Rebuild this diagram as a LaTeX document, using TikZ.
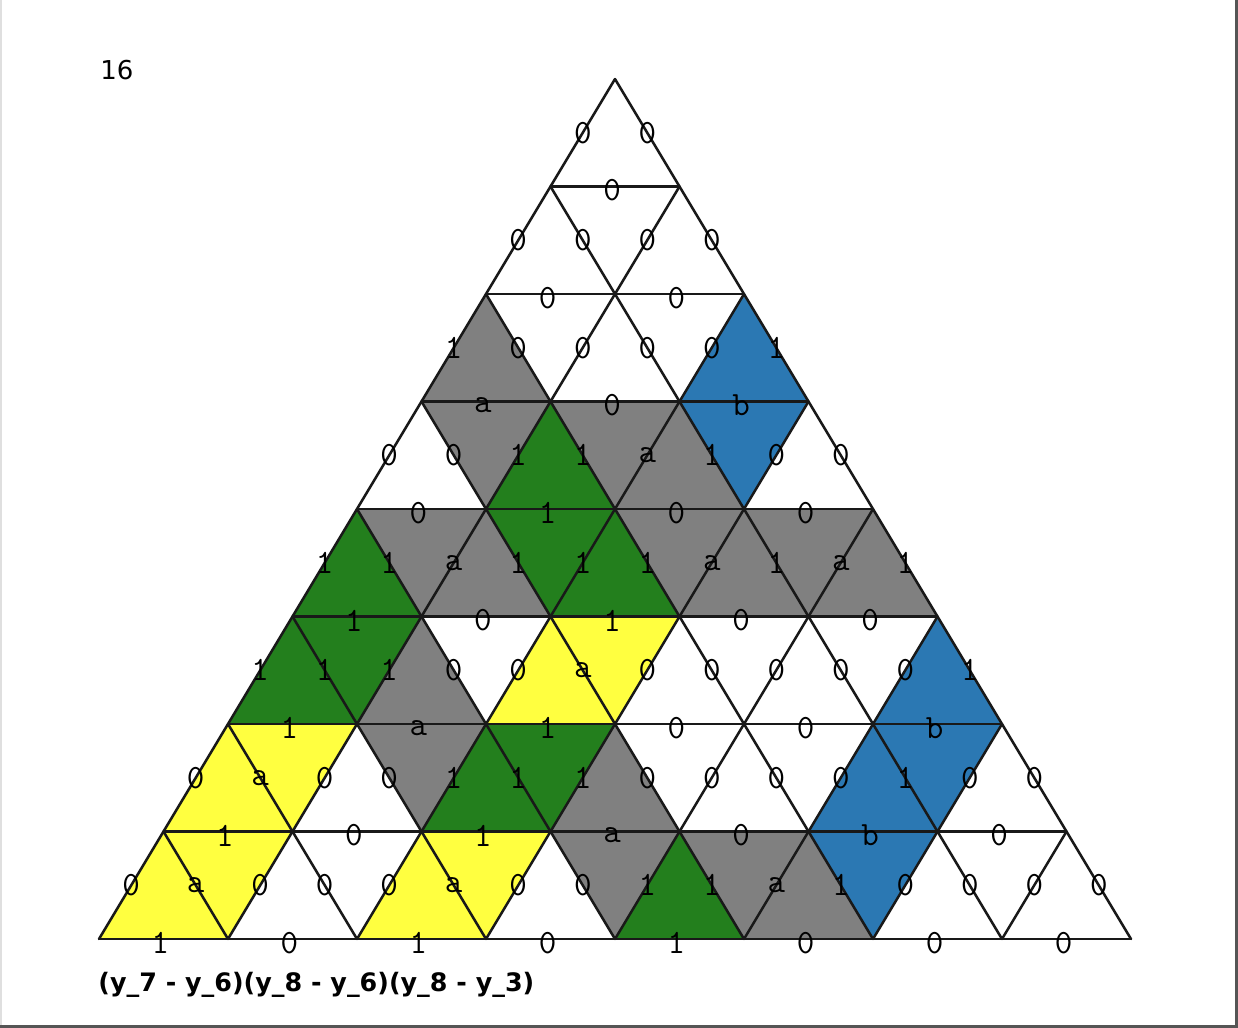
\documentclass[tikz,border=0pt]{standalone}
\usepackage{fontspec}
\setmainfont{DejaVu Sans}
\usetikzlibrary{calc}
\definecolor{cellW}{HTML}{FFFFFF}
\definecolor{cellK}{HTML}{808080}
\definecolor{cellG}{HTML}{237F1D}
\definecolor{cellY}{HTML}{FFFF40}
\definecolor{cellB}{HTML}{2B78B3}
\definecolor{frame}{HTML}{555555}

\begin{document}
\begin{tikzpicture}[
  x=0.5pt, y=-0.5pt,
  gridline/.style={line width=1.25pt, black!90, line cap=round, line join=round},
  cell/.style={fill=cell#1},
  edgelabel/.style={font=\ttfamily\fontsize{17}{17}\selectfont, text=black, inner sep=0pt},
  toplabel/.style={font=\fontsize{13}{15}\selectfont, anchor=west, inner sep=0pt},
]

% Frame
\useasboundingbox (0,0) rectangle (1238,1028);
\draw[gray!25, line width=1pt] (1,0) -- (1,1028);
\draw[frame, line width=1.2pt] (0,1026.5) -- (1236.5,1026.5) -- (1236.5,0);

% =============================================
% Vertices of the grid
% =============================================
\foreach \r in {0,...,8}
  \foreach \j in {0,...,\r}
    \coordinate (v\r-\j) at ({615+129*(\j-\r/2)}, {79+107.5*\r});

% =============================================
% Cells (up, down, up, ... in each row)
% =============================================
\foreach \r/\cols in {0/{W}, 1/{W,W,W}, 2/{K,W,W,W,B},
    3/{W,K,G,K,K,B,W}, 4/{G,K,K,G,G,K,K,K,K},
    5/{G,G,K,W,Y,Y,W,W,W,W,B}, 6/{Y,Y,W,K,G,G,K,W,W,W,B,B,W},
    7/{Y,Y,W,W,Y,Y,W,K,G,K,K,B,W,W,W}} {
  \pgfmathtruncatemacro{\rr}{\r+1}
  \foreach \c [count=\k from 0] in \cols {
    \pgfmathtruncatemacro{\j}{\k/2}
    \pgfmathtruncatemacro{\jj}{\j+1}
    \ifodd\k
      \fill[cell=\c] (v\r-\j) -- (v\r-\jj) -- (v\rr-\jj) -- cycle;
    \else
      \fill[cell=\c] (v\r-\j) -- (v\rr-\j) -- (v\rr-\jj) -- cycle;
    \fi
  }
}

% Grid lines
\foreach \k in {1,...,8}
  \draw[gridline] (v\k-0) -- (v\k-\k);
\foreach \m in {0,...,7} {
  \pgfmathtruncatemacro{\n}{8-\m}
  \draw[gridline] (v\m-\m) -- (v8-\m);
  \draw[gridline] (v\m-0) -- (v8-\n);
}

% =============================================
% Edge labels
% =============================================
% slanted edges, left to right in each row
\foreach \r/\labs in {0/{0,0}, 1/{0,0,0,0}, 2/{1,0,0,0,0,1},
    3/{0,0,1,1,a,1,0,0}, 4/{1,1,a,1,1,1,a,1,a,1},
    5/{1,1,1,0,0,a,0,0,0,0,0,1}, 6/{0,a,0,0,1,1,1,0,0,0,0,1,0,0},
    7/{0,a,0,0,0,a,0,0,1,1,a,1,0,0,0,0}} {
  \pgfmathtruncatemacro{\rr}{\r+1}
  \foreach \t [count=\k from 0] in \labs {
    \pgfmathtruncatemacro{\j}{\k/2}
    \pgfmathtruncatemacro{\jj}{\j+1}
    \ifodd\k
      \node[edgelabel] (s\r-\k) at ($(v\r-\j)!0.5!(v\rr-\jj)$) {\t};
    \else
      \node[edgelabel] (s\r-\k) at ($(v\r-\j)!0.5!(v\rr-\j)$) {\t};
    \fi
  }
}

% horizontal edges
\foreach \r/\labs in {1/{0}, 2/{0,0}, 3/{a,0,b}, 4/{0,1,0,0},
    5/{1,0,1,0,0}, 6/{1,a,1,0,0,b}, 7/{1,0,1,a,0,b,0},
    8/{1,0,1,0,1,0,0,0}} {
  \foreach \t [count=\i from 0] in \labs {
    \pgfmathtruncatemacro{\ii}{\i+1}
    \node[edgelabel, xshift=-1.5pt, yshift=-2pt] (h\r-\i)
      at ($(v\r-\i)!0.5!(v\r-\ii)$) {\t};
  }
}

% Count and product
\node[toplabel] (count) at (100,70) {16};
\node[toplabel, font=\bfseries\fontsize{12.7}{15}\selectfont] (product) at (98,985)
  {(y\_7 - y\_6)(y\_8 - y\_6)(y\_8 - y\_3)};

\end{tikzpicture}
\end{document}
